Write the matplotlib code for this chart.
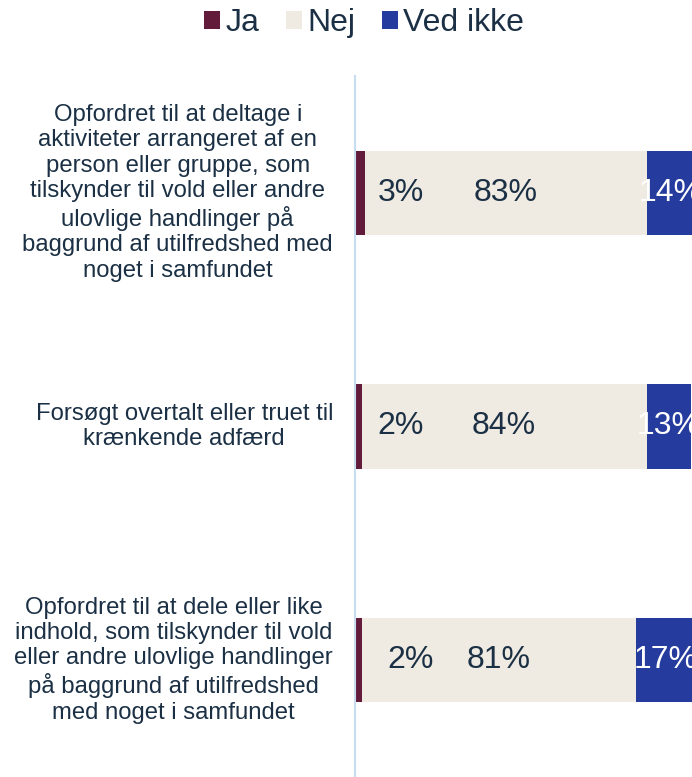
import matplotlib
matplotlib.use("Agg")
import matplotlib.pyplot as plt
from matplotlib.patches import Patch

plt.rcParams['font.family'] = ['Liberation Sans', 'DejaVu Sans']

categories = [
    "Opfordret til at deltage i\naktiviteter arrangeret af en\nperson eller gruppe, som\ntilskynder til vold eller andre\nulovlige handlinger på\nbaggrund af utilfredshed med\nnoget i samfundet",
    "Forsøgt overtalt eller truet til\nkrænkende adfærd",
    "Opfordret til at dele eller like\nindhold, som tilskynder til vold\neller andre ulovlige handlinger\npå baggrund af utilfredshed\nmed noget i samfundet",
]
series_names = ["Ja", "Nej", "Ved ikke"]
ja = [3, 2, 2]
nej = [83, 84, 81]
ved_ikke = [14, 13, 17]

colors = ["#621B3A", "#EFEAE2", "#253C9E"]
text_dark = "#1B3044"
ja_label_x = [13.5, 13.5, 16.5]

W, H = 692, 777
fig = plt.figure(figsize=(W / 100, H / 100), dpi=100)
ax = fig.add_axes([355 / W, 0, 339 / W, 1 - 76 / H])

y = list(range(len(categories)))
h = 0.36
ax.barh(y, ja, height=h, color=colors[0], linewidth=0)
ax.barh(y, nej, left=ja, height=h, color=colors[1], linewidth=0)
left3 = [a + b for a, b in zip(ja, nej)]
ax.barh(y, ved_ikke, left=left3, height=h, color=colors[2], linewidth=0)

for i in y:
    ax.text(ja_label_x[i], i, f"{ja[i]}%", ha='center', va='center', fontsize=23, color=text_dark)
    ax.text(ja[i] + nej[i] / 2, i, f"{nej[i]}%", ha='center', va='center', fontsize=23, color=text_dark)
    ax.text(left3[i] + ved_ikke[i] / 2, i, f"{ved_ikke[i]}%", ha='center', va='center',
            fontsize=23, color='white', clip_on=False)

ax.set_xlim(0, 100)
ax.set_ylim(2.5, -0.5)
ax.set_xticks([])
ax.set_yticks([])
for s in ['top', 'right', 'bottom']:
    ax.spines[s].set_visible(False)
ax.spines['left'].set_color('#C9DDF0')
ax.spines['left'].set_linewidth(1.5)

# category labels
for i, cat in enumerate(categories):
    yd = ax.transData.transform((0, i))[1]
    fig.text(333 / W, yd / H, cat, ha='right', va='center', multialignment='center',
             fontsize=17.2, color=text_dark, linespacing=1.2)

handles = [Patch(facecolor=c, edgecolor='none') for c in colors]
fig.legend(handles, series_names, loc='center', bbox_to_anchor=(364 / W, 1 - 23 / H),
           ncol=3, frameon=False, fontsize=23, handlelength=0.5, handleheight=0.5,
           handletextpad=0.15, columnspacing=0.85, labelcolor=text_dark, borderaxespad=0)

fig.savefig("out.png", dpi=100)
